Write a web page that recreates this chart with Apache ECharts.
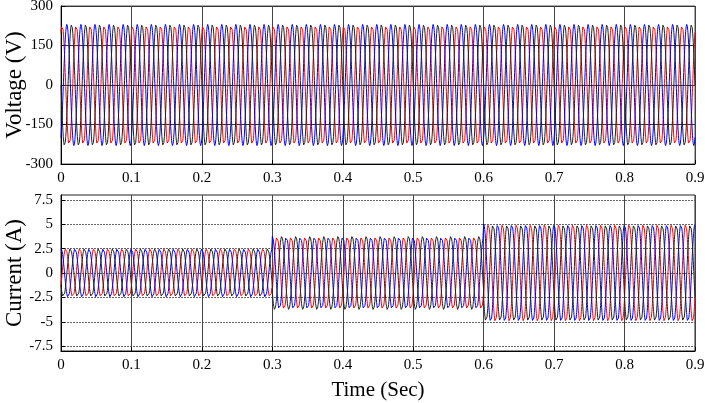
<!DOCTYPE html>
<html>
<head>
<meta charset="utf-8">
<script src="https://cdn.jsdelivr.net/npm/echarts@6/dist/echarts.min.js"></script>
<style>
  html, body { margin: 0; padding: 0; background: #fff; }
  #chart { width: 705px; height: 403px; }
</style>
</head>
<body>
<div id="chart"></div>
<script>
// ── values ──────────────────────────────────────
const xTicks = [0, 0.1, 0.2, 0.3, 0.4, 0.5, 0.6, 0.7, 0.8, 0.9];
const voltageTicks = [-300, -150, 0, 150, 300];
const currentTicks = [-7.5, -5, -2.5, 0, 2.5, 5, 7.5];

const supplyFreq = 50;                    // Hz
const voltagePeak = 230;                  // V, constant
const loadSteps = [0, 0.3, 0.6, 0.9];     // s, load change instants
const currentPeaks = [2.5, 3.75, 5];      // A, per load step
const phaseNames = ["a", "b", "c"];
const phaseColors = ["#ff0000", "#0000ff", "#222222"];
const voltagePhase = [60, -60, 180];      // deg
const currentPhase = [-30, 90, 210];      // deg
const sampleStep = 0.00025;               // s

// three-phase waveform samples
function peakAt(t) {
  for (let i = 0; i < currentPeaks.length; i++) {
    if (t < loadSteps[i + 1]) return currentPeaks[i];
  }
  return currentPeaks[currentPeaks.length - 1];
}

function wave(peakFn, phaseDeg) {
  const out = [];
  const n = Math.round(loadSteps[loadSteps.length - 1] / sampleStep);
  for (let k = 0; k <= n; k++) {
    const t = k * sampleStep;
    const v = peakFn(t) * Math.sin(2 * Math.PI * supplyFreq * t + phaseDeg * Math.PI / 180);
    out.push([t, v]);
  }
  return out;
}

const serif = "'Liberation Serif', 'DejaVu Serif', serif";
const chart = echarts.init(document.getElementById("chart"));

const series = [];
phaseNames.forEach((p, i) => {
  series.push({
    name: "v" + p, type: "line", xAxisIndex: 0, yAxisIndex: 0,
    data: wave(() => voltagePeak, voltagePhase[i]),
    showSymbol: false, sampling: null,
    lineStyle: { width: 1, color: phaseColors[i] }, itemStyle: { color: phaseColors[i] },
  });
  series.push({
    name: "i" + p, type: "line", xAxisIndex: 1, yAxisIndex: 1,
    data: wave(peakAt, currentPhase[i]),
    showSymbol: false, sampling: null,
    lineStyle: { width: 1, color: phaseColors[i] }, itemStyle: { color: phaseColors[i] },
  });
});

const xAxisBase = {
  type: "value", min: xTicks[0], max: xTicks[xTicks.length - 1], interval: 0.1,
  axisLine: { show: true, onZero: false, lineStyle: { color: "#000" } },
  axisTick: { show: true, inside: true, length: 4, lineStyle: { color: "#000" } },
  axisLabel: { color: "#000", fontFamily: serif, fontSize: 15, margin: 7,
    formatter: v => String(Math.round(v * 10) / 10) },
  splitLine: { show: true, lineStyle: { color: "#444", width: 1 } },
};

const nameStyle = { color: "#000", fontFamily: serif, fontSize: 23 };

chart.setOption({
  animation: false,
  backgroundColor: "#fff",
  grid: [
    { left: 61, right: 10, top: 6, height: 158, show: true, borderColor: "#555", borderWidth: 1,
      containLabel: false, outerBoundsMode: "none" },
    { left: 61, right: 10, top: 195, height: 156, show: true, borderColor: "#222", borderWidth: 1,
      containLabel: false, outerBoundsMode: "none" },
  ],
  xAxis: [
    Object.assign({ gridIndex: 0 }, xAxisBase),
    Object.assign({ gridIndex: 1, name: "Time (Sec)", nameLocation: "middle", nameGap: 29,
      nameTextStyle: { color: "#000", fontFamily: serif, fontSize: 21 } }, xAxisBase),
  ],
  yAxis: [
    {
      gridIndex: 0, type: "value", min: voltageTicks[0], max: voltageTicks[voltageTicks.length - 1], interval: 150,
      name: "Voltage (V)", nameLocation: "middle", nameGap: 35, nameMoveOverlap: false, nameTextStyle: nameStyle,
      axisLine: { show: true, lineStyle: { color: "#000" } },
      axisTick: { show: true, inside: true, length: 4, lineStyle: { color: "#000" } },
      axisLabel: { color: "#000", fontFamily: serif, fontSize: 15, margin: 8 },
      splitLine: { show: true, lineStyle: { color: "#333", width: 1 } },
    },
    {
      gridIndex: 1, type: "value", min: -8, max: 8,
      name: "Current (A)", nameLocation: "middle", nameGap: 35, nameMoveOverlap: false, nameTextStyle: nameStyle,
      axisLine: { show: true, lineStyle: { color: "#000" } },
      axisTick: { show: true, inside: true, length: 4, customValues: currentTicks, lineStyle: { color: "#000" } },
      axisLabel: { color: "#000", fontFamily: serif, fontSize: 15, margin: 8, customValues: currentTicks },
      splitLine: { show: true, lineStyle: { color: "#666", width: 1, type: [2, 1] } },
    },
  ],
  series,
});
</script>
</body>
</html>
